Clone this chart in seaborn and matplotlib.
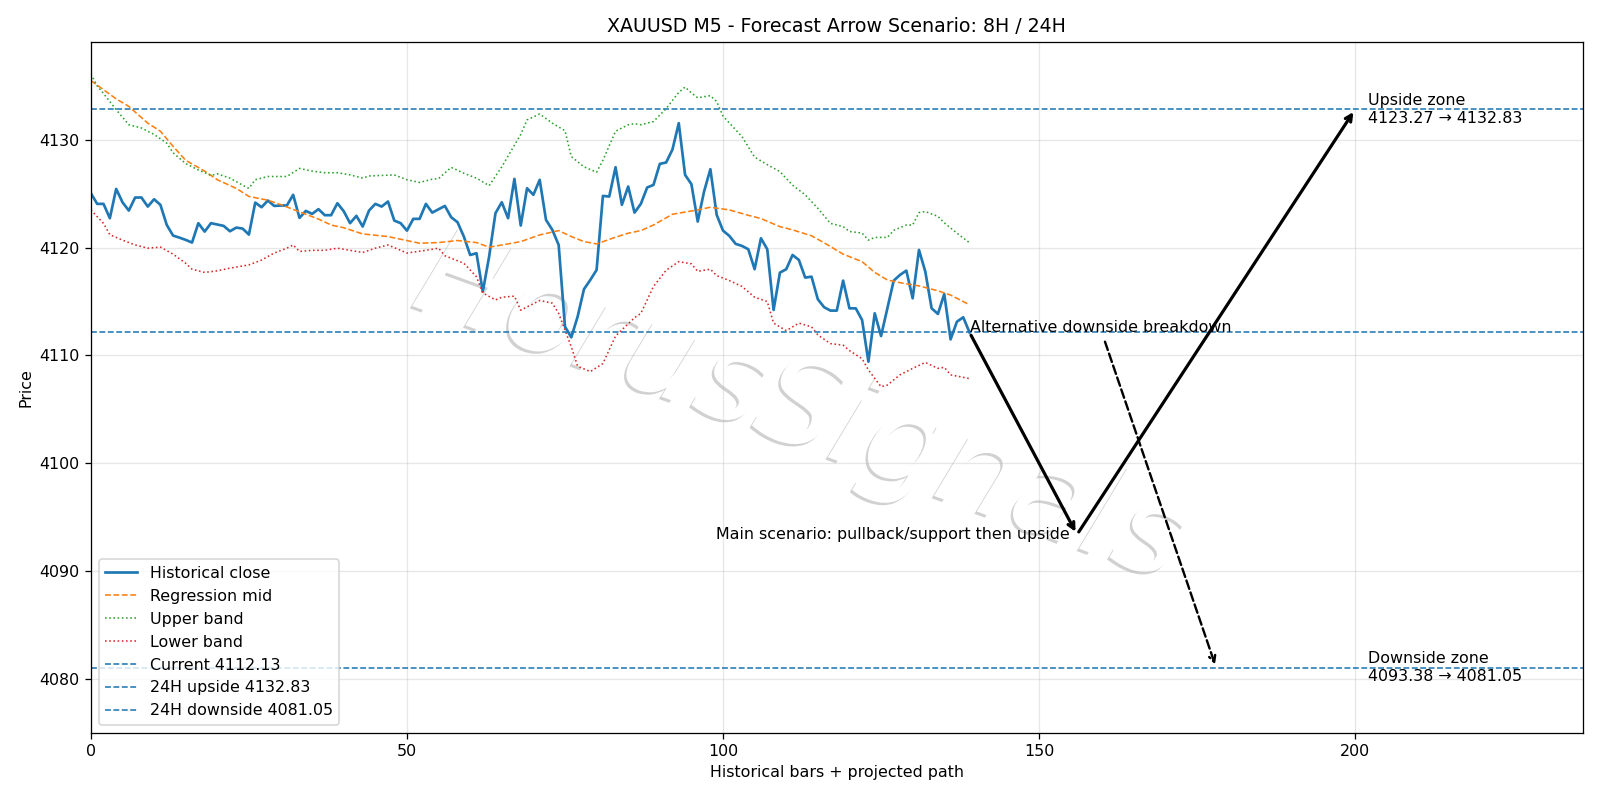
import numpy as np
import matplotlib
matplotlib.use('Agg')
import matplotlib.pyplot as plt
import matplotlib.patheffects as pe
import seaborn as sns

# =====================================================
# DATA
# =====================================================

close = [
    4125.05, 4124.06, 4124.06, 4122.73, 4125.45, 4124.21, 4123.44, 4124.65, 4124.65, 4123.81,
    4124.49, 4123.97, 4122.11, 4121.12, 4120.93, 4120.72, 4120.47, 4122.27, 4121.49, 4122.27,
    4122.14, 4122.02, 4121.52, 4121.86, 4121.77, 4121.21, 4124.18, 4123.75, 4124.37, 4123.87,
    4123.91, 4123.91, 4124.90, 4122.76, 4123.41, 4123.13, 4123.57, 4123.01, 4123.01, 4124.12,
    4123.38, 4122.27, 4122.95, 4121.96, 4123.44, 4124.06, 4123.81, 4124.28, 4122.51, 4122.27,
    4121.58, 4122.67, 4122.67, 4124.06, 4123.25, 4123.56, 4123.87, 4122.82, 4122.36, 4121.03,
    4119.32, 4119.48, 4115.92, 4119.17, 4123.19, 4124.21, 4122.73, 4126.38, 4122.05, 4125.51,
    4124.90, 4126.29, 4122.57, 4121.65, 4120.25, 4112.67, 4111.68, 4113.60, 4116.14, 4117.00,
    4117.93, 4124.80, 4124.74, 4127.46, 4123.97, 4125.67, 4123.25, 4124.06, 4125.58, 4125.82,
    4127.77, 4127.90, 4129.10, 4131.55, 4126.75, 4125.89, 4122.42, 4125.20, 4127.28, 4123.04,
    4121.58, 4121.09, 4120.35, 4120.16, 4119.85, 4118.00, 4120.87, 4119.85, 4114.22, 4117.68,
    4118.00, 4119.32, 4118.86, 4117.22, 4117.31, 4115.21, 4114.47, 4114.16, 4114.16, 4116.94,
    4114.37, 4114.37, 4113.29, 4109.42, 4113.91, 4111.80, 4114.37, 4116.94, 4117.47, 4117.87,
    4115.30, 4119.79, 4117.78, 4114.37, 4113.85, 4115.70, 4111.49, 4113.13, 4113.54, 4112.13,
]
bars = list(range(len(close)))

mid_x = [0, 4, 6, 9, 11, 13, 15, 18, 20, 23, 25, 28, 30, 32, 34, 36, 38, 40, 43, 47,
         49, 52, 55, 58, 61, 63, 66, 68, 71, 74, 76, 78, 80, 83, 85, 87, 89, 92, 96, 98,
         101, 104, 106, 109, 111, 114, 116, 119, 122, 124, 126, 128, 131, 134, 136, 139]
mid_y = [4135.50, 4133.80, 4133.10, 4131.55, 4130.80, 4129.40, 4128.10, 4127.10, 4126.30, 4125.50,
         4124.75, 4124.40, 4124.00, 4123.55, 4123.10, 4122.65, 4122.10, 4121.85, 4121.27, 4121.03,
         4120.78, 4120.41, 4120.47, 4120.66, 4120.47, 4120.04, 4120.35, 4120.56, 4121.18, 4121.58,
         4121.03, 4120.56, 4120.35, 4120.97, 4121.34, 4121.58, 4122.10, 4123.10, 4123.50, 4123.75,
         4123.50, 4123.00, 4122.70, 4121.95, 4121.65, 4121.10, 4120.45, 4119.40, 4118.70, 4117.70,
         4117.00, 4116.75, 4116.45, 4116.00, 4115.60, 4114.70]

upper_x = [0, 1, 2, 4, 6, 8, 10, 12, 13, 15, 17, 19, 20, 22, 24, 25, 26, 28, 30, 31,
           33, 35, 37, 39, 41, 43, 44, 48, 50, 52, 54, 55, 57, 59, 61, 63, 65, 68, 69, 71,
           73, 75, 76, 78, 80, 81, 83, 85, 86, 87, 89, 91, 93, 94, 95, 96, 98, 99, 100, 103,
           105, 107, 109, 111, 113, 115, 117, 119, 120, 122, 123, 124, 126, 127, 129, 130, 131, 132,
           134, 135, 137, 139]
upper_y = [4136.10, 4135.00, 4134.30, 4132.80, 4131.40, 4131.10, 4130.50, 4129.70, 4128.80, 4127.80,
           4127.20, 4126.70, 4126.85, 4126.45, 4125.80, 4125.50, 4126.30, 4126.60, 4126.60, 4126.60,
           4127.35, 4127.10, 4126.95, 4126.95, 4126.75, 4126.45, 4126.65, 4126.75, 4126.30, 4126.05,
           4126.35, 4126.40, 4127.45, 4126.90, 4126.45, 4125.75, 4127.50, 4130.50, 4131.85, 4132.40,
           4131.55, 4130.85, 4128.45, 4127.50, 4127.00, 4128.10, 4130.80, 4131.40, 4131.50, 4131.40,
           4131.70, 4132.90, 4134.40, 4134.90, 4134.35, 4133.90, 4134.10, 4133.55, 4132.20, 4130.30,
           4128.40, 4127.70, 4127.05, 4125.80, 4124.90, 4123.65, 4122.25, 4121.95, 4121.50, 4121.35,
           4120.70, 4120.95, 4120.95, 4121.60, 4122.10, 4122.10, 4123.25, 4123.35, 4122.90, 4122.30,
           4121.35, 4120.45]

lower_x = [0, 2, 3, 5, 7, 9, 11, 13, 15, 16, 18, 20, 22, 24, 25, 27, 29, 31, 32, 33,
           35, 37, 39, 41, 43, 45, 47, 50, 53, 55, 56, 59, 61, 62, 64, 65, 67, 68, 71, 73,
           74, 76, 77, 79, 81, 83, 86, 87, 89, 91, 93, 95, 96, 98, 99, 101, 103, 105, 107, 108,
           110, 112, 114, 115, 117, 119, 120, 122, 123, 125, 126, 128, 130, 132, 134, 135, 136, 139]
lower_y = [4123.50, 4122.25, 4121.20, 4120.70, 4120.25, 4119.95, 4120.05, 4119.40, 4118.55, 4118.00,
           4117.70, 4117.85, 4118.10, 4118.30, 4118.40, 4118.85, 4119.50, 4119.95, 4120.25, 4119.65,
           4119.75, 4119.75, 4119.95, 4119.75, 4119.55, 4119.95, 4120.25, 4119.50, 4119.75, 4119.95,
           4119.25, 4118.55, 4117.30, 4115.80, 4115.15, 4115.40, 4115.50, 4114.20, 4115.10, 4114.85,
           4113.90, 4110.80, 4109.00, 4108.50, 4109.25, 4111.80, 4113.50, 4113.90, 4116.40, 4117.90,
           4118.70, 4118.50, 4117.80, 4118.00, 4117.40, 4116.95, 4116.40, 4115.40, 4115.00, 4113.00,
           4112.30, 4113.00, 4112.65, 4111.90, 4111.10, 4110.95, 4110.45, 4109.70, 4108.65, 4107.10,
           4107.25, 4108.20, 4108.80, 4109.35, 4108.80, 4108.90, 4108.20, 4107.85]

current = 4112.13
up_target = 4132.83
down_target = 4081.05
support = 4093.38
up_start = 4123.27

# projected path anchors (bar index)
last_bar = 139
pullback_bar = 156
upside_bar = 200
alt_bar = 178

# =====================================================
# PLOT
# =====================================================

fig, ax = plt.subplots(figsize=(14, 7), dpi=1600 / 14)

sns.lineplot(x=bars, y=close, ax=ax, color='#1f77b4', linewidth=1.7, label='Historical close')
sns.lineplot(x=mid_x, y=mid_y, ax=ax, color='#ff7f0e', linewidth=1, linestyle='--',
             label='Regression mid')
sns.lineplot(x=upper_x, y=upper_y, ax=ax, color='#2ca02c', linewidth=1, linestyle=':',
             label='Upper band')
sns.lineplot(x=lower_x, y=lower_y, ax=ax, color='#d62728', linewidth=1, linestyle=':',
             label='Lower band')

ax.axhline(current, color='#1f77b4', linestyle='--', linewidth=1, label=f'Current {current:.2f}')
ax.axhline(up_target, color='#1f77b4', linestyle='--', linewidth=1,
           label=f'24H upside {up_target:.2f}')
ax.axhline(down_target, color='#1f77b4', linestyle='--', linewidth=1,
           label=f'24H downside {down_target:.2f}')

# main scenario arrows
ax.annotate('', xy=(pullback_bar, support), xytext=(last_bar, current),
            arrowprops=dict(arrowstyle='->', color='black', lw=2))
ax.annotate('', xy=(upside_bar, up_target), xytext=(pullback_bar, support),
            arrowprops=dict(arrowstyle='->', color='black', lw=2))
ax.text(pullback_bar - 1.2, support, 'Main scenario: pullback/support then upside',
        ha='right', va='center', fontsize=10)

# alternative scenario
ax.annotate('Alternative downside breakdown', xy=(alt_bar, down_target),
            xytext=(last_bar, current), fontsize=10,
            arrowprops=dict(arrowstyle='->', color='black', lw=1.5, linestyle='--'))

ax.text(upside_bar + 2, up_target, f'Upside zone\n{up_start:.2f} \u2192 {up_target:.2f}',
        ha='left', va='center', fontsize=10)
ax.text(upside_bar + 2, down_target, f'Downside zone\n{support:.2f} \u2192 {down_target:.2f}',
        ha='left', va='center', fontsize=10)

# watermark
ax.text(0.5, 0.487, 'HorusSignals', transform=fig.transFigure, fontsize=78,
        style='italic', color='white', rotation=-20, ha='center', va='center', zorder=0.5,
        path_effects=[pe.SimplePatchShadow(offset=(-1.5, -1.5), shadow_rgbFace='#999999', alpha=0.45),
                      pe.Normal()])

ax.set_xlim(0, 236)
ax.set_ylim(4075.0, 4139.1)
ax.grid(True, alpha=0.3)
ax.set_title('XAUUSD M5 - Forecast Arrow Scenario: 8H / 24H')
ax.set_xlabel('Historical bars + projected path')
ax.set_ylabel('Price')
ax.legend(loc='lower left')

fig.subplots_adjust(left=0.0568, right=0.9892, top=0.9478, bottom=0.0841)
fig.savefig('out.png', dpi=1600 / 14)
